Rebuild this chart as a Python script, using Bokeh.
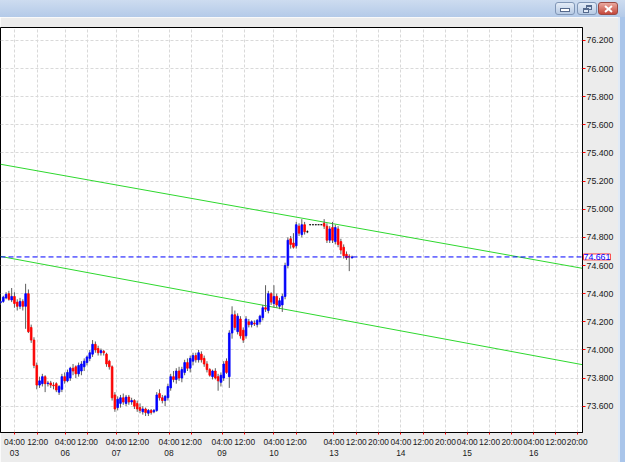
from bokeh.plotting import figure
from bokeh.models import (ColumnDataSource, Range1d, FixedTicker, LinearAxis, Span, Label,
                          Div, PrintfTickFormatter)
from bokeh.layouts import column, row
from bokeh.embed import file_html
from bokeh.resources import INLINE

# ---------------- data (hourly bars) ----------------
opens = [74.335, 74.345, 74.37, 74.40, 74.355, 74.38, 74.34, 74.31, 74.345, 74.31,
         74.40, 74.16, 74.07, 73.89, 73.75, 73.76, 73.81, 73.76, 73.765, 73.75,
         73.76, 73.70, 73.72, 73.81, 73.78, 73.80, 73.87, 73.88, 73.83, 73.85,
         73.88, 73.91, 73.94, 73.97, 74.04, 74.01, 73.98, 73.99, 73.97, 73.92,
         73.88, 73.68, 73.59, 73.62, 73.66, 73.62, 73.665, 73.63, 73.64, 73.62,
         73.59, 73.56, 73.58, 73.55, 73.57, 73.56, 73.57, 73.69, 73.66, 73.64,
         73.66, 73.73, 73.81, 73.79, 73.85, 73.80, 73.84, 73.91, 73.87, 73.92,
         73.96, 73.93, 73.97, 73.94, 73.90, 73.86, 73.81, 73.85, 73.81, 73.77,
         73.80, 73.92, 73.81, 74.12, 74.25, 74.13, 74.22, 74.14, 74.10, 74.20,
         74.18, 74.19, 74.18, 74.20, 74.23, 74.30, 74.28, 74.40, 74.33, 74.38,
         74.31, 74.32, 74.38, 74.60, 74.79, 74.76, 74.74, 74.88, 74.82, 74.89,
         74.84, 74.89, 74.89, 74.89, 74.89, 74.89, 74.90, 74.88, 74.78, 74.87,
         74.77, 74.86, 74.77, 74.73, 74.68, 74.665, 74.655]
highs = [74.35, 74.385, 74.41, 74.42, 74.44, 74.41, 74.36, 74.37, 74.36, 74.47,
         74.43, 74.18, 74.09, 73.91, 73.81, 73.83, 73.82, 73.78, 73.78, 73.77,
         73.77, 73.75, 73.83, 73.84, 73.86, 73.88, 73.90, 73.89, 73.91, 73.92,
         73.94, 73.96, 74.00, 74.07, 74.06, 74.03, 74.01, 74.00, 73.98, 73.93,
         73.89, 73.70, 73.67, 73.68, 73.69, 73.68, 73.68, 73.66, 73.65, 73.64,
         73.62, 73.60, 73.59, 73.58, 73.58, 73.58, 73.70, 73.72, 73.68, 73.68,
         73.76, 73.83, 73.85, 73.87, 73.88, 73.88, 73.93, 73.94, 73.96, 73.98,
         73.98, 74.00, 73.99, 73.96, 73.92, 73.87, 73.86, 73.87, 73.83, 73.84,
         73.92, 73.94, 74.14, 74.31, 74.28, 74.26, 74.24, 74.16, 74.24, 74.22,
         74.21, 74.21, 74.22, 74.25, 74.32, 74.46, 74.42, 74.41, 74.46, 74.40,
         74.37, 74.40, 74.62, 74.80, 74.81, 74.83, 74.91, 74.90, 74.93, 74.91,
         74.85, 74.89, 74.89, 74.89, 74.89, 74.89, 74.93, 74.90, 74.88, 74.91,
         74.89, 74.88, 74.79, 74.75, 74.70, 74.68, 74.67]
lows = [74.32, 74.335, 74.36, 74.35, 74.34, 74.30, 74.28, 74.29, 74.28, 74.15,
        74.12, 74.05, 73.87, 73.72, 73.73, 73.74, 73.70, 73.74, 73.73, 73.72,
        73.70, 73.68, 73.70, 73.76, 73.77, 73.78, 73.82, 73.80, 73.81, 73.82,
        73.85, 73.89, 73.92, 73.95, 73.98, 73.96, 73.96, 73.96, 73.88, 73.86,
        73.64, 73.56, 73.57, 73.59, 73.61, 73.60, 73.61, 73.61, 73.58, 73.56,
        73.55, 73.54, 73.53, 73.53, 73.54, 73.55, 73.56, 73.64, 73.62, 73.60,
        73.64, 73.71, 73.77, 73.76, 73.78, 73.77, 73.82, 73.85, 73.84, 73.89,
        73.91, 73.91, 73.91, 73.88, 73.84, 73.81, 73.79, 73.79, 73.71, 73.74,
        73.78, 73.83, 73.73, 74.08, 74.14, 74.11, 74.08, 74.05, 74.08, 74.16,
        74.16, 74.17, 74.16, 74.18, 74.21, 74.27, 74.26, 74.32, 74.30, 74.30,
        74.29, 74.27, 74.36, 74.58, 74.72, 74.72, 74.72, 74.81, 74.80, 74.82,
        74.83, 74.89, 74.89, 74.89, 74.89, 74.89, 74.86, 74.76, 74.76, 74.76,
        74.75, 74.73, 74.68, 74.65, 74.64, 74.56, 74.65]
closes = [74.345, 74.375, 74.395, 74.36, 74.38, 74.33, 74.31, 74.345, 74.31, 74.40,
          74.13, 74.07, 73.89, 73.75, 73.78, 73.81, 73.76, 73.765, 73.75, 73.745,
          73.715, 73.74, 73.81, 73.78, 73.84, 73.87, 73.85, 73.83, 73.89, 73.90,
          73.92, 73.95, 73.98, 74.04, 74.00, 73.98, 73.995, 73.98, 73.90, 73.88,
          73.66, 73.58, 73.65, 73.66, 73.63, 73.665, 73.63, 73.64, 73.60, 73.58,
          73.57, 73.58, 73.555, 73.57, 73.555, 73.57, 73.68, 73.66, 73.64, 73.67,
          73.74, 73.81, 73.79, 73.85, 73.80, 73.86, 73.91, 73.87, 73.94, 73.96,
          73.93, 73.98, 73.93, 73.90, 73.86, 73.82, 73.85, 73.80, 73.78, 73.82,
          73.90, 73.84, 74.12, 74.25, 74.16, 74.24, 74.10, 74.07, 74.22, 74.18,
          74.20, 74.185, 74.21, 74.24, 74.30, 74.29, 74.40, 74.34, 74.38, 74.32,
          74.35, 74.38, 74.60, 74.78, 74.75, 74.73, 74.89, 74.83, 74.89, 74.84,
          74.84, 74.89, 74.89, 74.89, 74.89, 74.89, 74.88, 74.78, 74.86, 74.78,
          74.87, 74.75, 74.71, 74.67, 74.655, 74.66, 74.661]
bar_index = list(range(len(opens)))

time_ticks = [5, 13.3, 23.2, 31.2, 41.5, 49.5, 60.4, 68.4, 79.4, 87.5, 98, 106,
              119.5, 127.5, 135.5, 143.5, 151.5, 159.5, 167.3, 175.3, 183.3, 191.1, 199, 206.7]
time_labels = ["04:00", "12:00"] * 6 + ["04:00", "12:00", "20:00"] * 4
day_ticks = [5, 23.2, 41.5, 60.4, 79.4, 98, 119.5, 143.5, 167.3, 191.1]
day_labels = ["03", "06", "07", "08", "09", "10", "13", "14", "15", "16"]
price_ticks = [73.6, 73.8, 74.0, 74.2, 74.4, 74.6, 74.8, 75.0, 75.2, 75.4, 75.6, 75.8, 76.0, 76.2]

channel_x = [0.0, 208.6]
channel_upper = [75.32, 74.58]
channel_lower = [74.665, 73.895]
last_price = closes[-1]

# ---------------- styling ----------------
FONT = "Liberation Sans"
FS = "8.4px"
BORDER = "#ececec"
UP, DOWN, FLAT = "#0000ff", "#ff0000", "#000000"

colors = [UP if c > o else (DOWN if c < o else FLAT) for o, c in zip(opens, closes)]
src = ColumnDataSource(dict(
    x=bar_index, h=highs, l=lows,
    top=[max(o, c) for o, c in zip(opens, closes)],
    bottom=[min(o, c) for o, c in zip(opens, closes)],
    color=colors))

p = figure(width=618, height=445, x_range=Range1d(channel_x[0], channel_x[1]),
           y_range=Range1d(73.413, 76.292), y_axis_location="right",
           output_backend="svg", toolbar_location=None,
           min_border_left=0, min_border_right=36, min_border_top=10, min_border_bottom=30)
p.border_fill_color = BORDER
p.background_fill_color = "white"
p.outline_line_color = "black"

# grids
p.xgrid.grid_line_color = "#d9d9d9"
p.xgrid.grid_line_dash = "3 2"
p.ygrid.grid_line_color = "#d9d9d9"
p.ygrid.grid_line_dash = "3 2"

# channel lines
p.line(channel_x, channel_upper, line_color="#2ed82e", line_width=1)
p.line(channel_x, channel_lower, line_color="#2ed82e", line_width=1)

# current price line
p.add_layout(Span(location=last_price, dimension="width", line_color="#0000ff",
                  line_dash="5 3", line_width=1))

# candles
p.segment(x0="x", y0="l", x1="x", y1="h", source=src, line_color="#5c5c5c", line_width=1)
p.vbar(x="x", width=0.6, top="top", bottom="bottom", source=src,
       fill_color="color", line_color="color", line_width=0.8)

# price axis
ya = p.yaxis[0]
ya.ticker = FixedTicker(ticks=price_ticks)
ya.formatter = PrintfTickFormatter(format="%.3f")
ya.axis_line_color = "black"
ya.major_tick_line_color = "#ff0000"
ya.major_tick_in = 0
ya.major_tick_out = 3
ya.minor_tick_line_color = None
ya.major_label_standoff = 1
ya.major_label_text_font = FONT
ya.major_label_text_font_size = "8.8px"
ya.major_label_text_color = "#1a1a1a"

# time axis
xa = p.xaxis[0]
xa.ticker = FixedTicker(ticks=time_ticks)
xa.major_label_overrides = {t: s for t, s in zip(time_ticks, time_labels)}
xa.axis_line_color = "black"
xa.major_tick_line_color = "#ff0000"
xa.major_tick_in = 0
xa.major_tick_out = 2
xa.minor_tick_line_color = None
xa.major_label_standoff = 2
xa.major_label_text_font = FONT
xa.major_label_text_font_size = FS
xa.major_label_text_color = "#1a1a1a"

# day axis
da = LinearAxis(ticker=FixedTicker(ticks=day_ticks),
                major_label_overrides={t: s for t, s in zip(day_ticks, day_labels)})
da.axis_line_color = None
da.major_tick_line_color = None
da.minor_tick_line_color = None
da.major_tick_in = 0
da.major_tick_out = 0
da.major_label_standoff = 0
da.major_label_text_font = FONT
da.major_label_text_font_size = FS
da.major_label_text_color = "#1a1a1a"
p.add_layout(da, "below")

# current price tag on the price scale (kept in a side panel so it is not clipped)
tag_kw = dict(y=last_price, y_units="data", text="%.3f" % last_price, text_font=FONT,
              text_font_size="8.8px", text_color="#0000ff", text_baseline="middle",
              text_align="left", background_fill_color="white", border_line_color="#ff4040")
try:
    tag = Label(x=583, x_units="canvas", **tag_kw)
except Exception:
    tag = Label(x=583, x_units="screen", **tag_kw)
p.add_layout(tag, "above")

# ---------------- window chrome ----------------
btn = ("position:absolute;top:2px;width:20px;height:13px;box-sizing:border-box;"
       "border:1px solid #8096b6;border-radius:3px;background:linear-gradient(#e4ecf7,#b7cae4);")
title_html = (
    '<div style="position:relative;width:625px;height:17px;overflow:hidden;'
    'background:linear-gradient(to bottom,#cddcf0,#b4cae8);">'
    f'<div style="{btn}left:555px;">'
    '<div style="position:absolute;left:5px;top:6px;width:8px;height:2px;background:#fff;'
    'box-shadow:0 0 0 1px #55698c;"></div></div>'
    f'<div style="{btn}left:577px;">'
    '<div style="position:absolute;left:8px;top:2px;width:6px;height:5px;box-sizing:border-box;'
    'border:1px solid #55698c;border-top-width:2px;"></div>'
    '<div style="position:absolute;left:5px;top:5px;width:6px;height:5px;box-sizing:border-box;'
    'border:1px solid #55698c;border-top-width:2px;background:#e4ecf7;"></div></div>'
    '<div style="position:absolute;left:598px;top:2px;width:20px;height:13px;box-sizing:border-box;'
    'border:1px solid #9a4a44;border-radius:3px;background:linear-gradient(#eaa99f,#c4473b);">'
    '<div style="position:absolute;left:5px;top:5px;width:9px;height:2px;background:#fff;'
    'transform:rotate(40deg);"></div>'
    '<div style="position:absolute;left:5px;top:5px;width:9px;height:2px;background:#fff;'
    'transform:rotate(-40deg);"></div></div>'
    '</div>')
title_bar = Div(text=title_html, width=625, height=17, margin=0)
strip = Div(text='<div style="width:7px;height:445px;box-sizing:border-box;background:#a9c5ea;'
                 'border-left:2px solid #e2ebf6;"></div>', width=7, height=445, margin=0)

layout = column(title_bar, row(p, strip, spacing=0), spacing=0)

open("out.html", "w").write(file_html(layout, INLINE))
